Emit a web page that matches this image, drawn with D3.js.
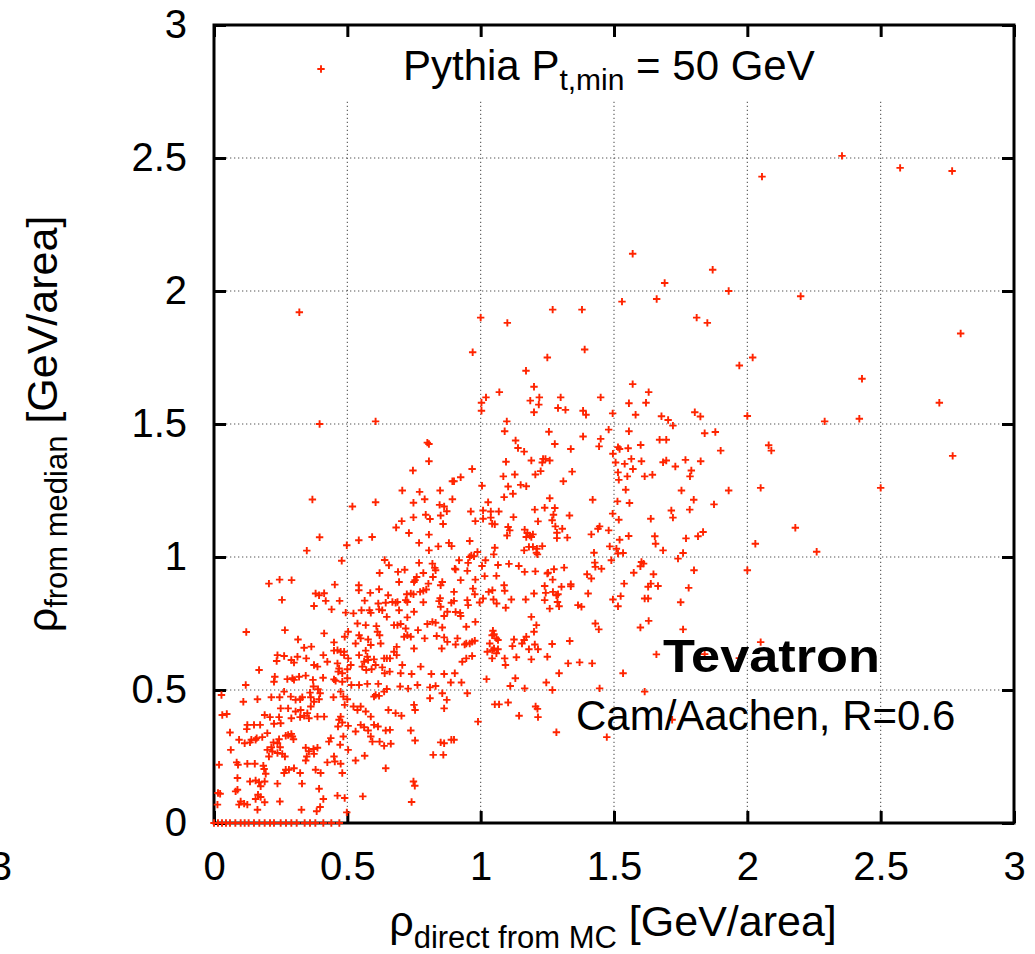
<!DOCTYPE html>
<html><head><meta charset="utf-8">
<script src="https://cdn.jsdelivr.net/npm/d3@7"></script>
<style>
body{margin:0;background:#fff}
svg{display:block}
text{font-family:"Liberation Sans",Arial,Helvetica,sans-serif;fill:#000}
</style>
</head><body>
<svg id="c" width="1035" height="954"></svg>
<script>
// ---------- data ----------
const xTicks = [0, 0.5, 1, 1.5, 2, 2.5, 3];
const yTicks = [0, 0.5, 1, 1.5, 2, 2.5, 3];
const xTickLabels = ["0", "0.5", "1", "1.5", "2", "2.5", "3"];
const yTickLabels = ["0", "0.5", "1", "1.5", "2", "2.5", "3"];
const gridValues = [0.5, 1, 1.5, 2, 2.5];
const seriesName = "Pythia";

// [rho direct from MC, rho from median]
const ptsUpperLeft = [[0.396,1.5],[0.606,1.51],[0.80,1.43],[0.806,1.425],[0.806,1.36],[0.746,1.325],[0.894,1.285],[0.90,1.285],[0.925,1.30],[0.706,1.25],[0.771,1.245],[0.848,1.25],[0.369,1.216],[0.748,1.204],[0.79,1.217],[0.894,1.217],[0.606,1.206],[0.519,1.19],[0.846,1.196],[0.863,1.19],[0.873,1.172],[0.794,1.159],[0.81,1.143],[0.748,1.149],[0.85,1.156],[0.704,1.135],[0.859,1.124],[0.683,1.111],[0.731,1.09],[0.806,1.084],[0.396,1.074],[0.593,1.075],[0.543,1.063],[0.498,1.044],[0.769,1.053],[0.881,1.053],[0.891,1.041],[0.841,1.04],[0.806,1.025],[0.348,1.024],[0.479,0.986],[0.64,0.989],[0.656,0.969],[0.769,0.978],[0.819,0.975],[0.828,0.959],[0.831,0.95],[0.919,0.988],[0.903,0.956],[0.906,0.953],[0.621,0.94],[0.69,0.944],[0.715,0.952],[0.785,0.94],[0.821,0.925],[0.76,0.925],[0.75,0.906],[0.754,0.913],[0.856,0.906],[0.85,0.894],[0.925,0.913],[0.694,0.906],[0.206,0.9],[0.246,0.915],[0.291,0.913],[0.453,0.896],[0.543,0.894],[0.543,0.875],[0.586,0.865],[0.619,0.879],[0.653,0.856],[0.723,0.86],[0.738,0.863],[0.748,0.86],[0.773,0.869],[0.785,0.873],[0.796,0.878],[0.804,0.9],[0.9,0.869],[0.381,0.863],[0.394,0.856],[0.413,0.864],[0.255,0.839],[0.419,0.835],[0.471,0.835],[0.565,0.836],[0.616,0.825],[0.644,0.828],[0.669,0.831],[0.681,0.828],[0.688,0.831],[0.719,0.838],[0.725,0.831],[0.785,0.83],[0.848,0.845],[0.844,0.834],[0.89,0.828],[0.9,0.835],[0.375,0.816],[0.441,0.803],[0.494,0.791],[0.523,0.788],[0.553,0.8],[0.583,0.8],[0.588,0.79],[0.619,0.803],[0.631,0.8],[0.694,0.8],[0.75,0.794],[0.85,0.813],[0.875,0.794],[0.906,0.793],[0.923,0.79]];

const ptsUpperMid = [[1.003,1.58],[1.003,1.55],[1.186,1.588],[1.218,1.573],[1.29,1.56],[1.318,1.553],[1.2,1.544],[1.384,1.55],[1.395,1.535],[1.495,1.54],[1.556,1.578],[1.581,1.535],[1.678,1.529],[1.703,1.515],[1.721,1.494],[1.803,1.544],[1.824,1.528],[1.84,1.465],[1.098,1.51],[1.09,1.473],[1.256,1.471],[1.384,1.453],[1.48,1.479],[1.45,1.444],[1.444,1.416],[1.556,1.473],[1.6,1.421],[1.671,1.441],[1.696,1.441],[1.131,1.438],[1.14,1.41],[1.163,1.396],[1.278,1.425],[1.338,1.406],[1.515,1.413],[1.521,1.406],[1.553,1.409],[1.496,1.388],[1.095,1.358],[1.19,1.363],[1.234,1.369],[1.243,1.369],[1.231,1.355],[1.259,1.363],[1.506,1.355],[1.54,1.35],[1.565,1.369],[1.571,1.331],[1.603,1.36],[1.684,1.356],[1.696,1.363],[1.73,1.34],[1.768,1.365],[1.79,1.325],[1.825,1.36],[0.968,1.331],[1.085,1.303],[1.128,1.31],[1.205,1.31],[1.225,1.323],[1.343,1.321],[1.31,1.285],[1.515,1.318],[1.518,1.29],[1.55,1.303],[1.615,1.303],[1.644,1.309],[1.785,1.303],[1.005,1.268],[1.103,1.265],[1.15,1.271],[1.171,1.266],[1.121,1.238],[1.088,1.225],[1.259,1.221],[1.028,1.206],[1.544,1.253],[1.753,1.25],[1.42,1.215],[1.513,1.209],[1.558,1.203],[1.799,1.215],[1.875,1.198],[0.963,1.171],[1.009,1.175],[1.038,1.171],[1.068,1.171],[1.038,1.148],[1.009,1.144],[0.98,1.135],[1.043,1.125],[1.053,1.123],[1.123,1.15],[1.203,1.178],[1.24,1.185],[1.278,1.184],[1.273,1.159],[1.215,1.134],[1.268,1.138],[1.333,1.156],[1.495,1.163],[1.518,1.14],[1.638,1.144],[1.715,1.175],[1.721,1.148],[1.784,1.178],[1.103,1.113],[1.109,1.1],[1.099,1.081],[1.165,1.103],[1.175,1.09],[1.184,1.081],[1.196,1.085],[1.19,1.075],[1.171,1.075],[1.28,1.115],[1.286,1.091],[1.286,1.071],[1.306,1.106],[1.325,1.073],[1.415,1.085],[1.44,1.106],[1.446,1.115],[1.48,1.1],[1.521,1.065],[1.555,1.079],[1.653,1.078],[1.656,1.05],[1.684,1.025],[1.815,1.078],[1.834,1.094],[0.959,1.06],[1.053,1.035],[1.049,1.01],[1.181,1.038],[1.196,1.038],[1.211,1.031],[1.231,1.041],[1.163,1.025],[1.209,1.016],[1.213,1.01],[1.484,1.04],[1.509,1.031],[1.515,1.013],[1.534,1.015],[1.425,1.016],[1.74,0.994],[1.759,1.015],[0.988,1.019],[0.975,1.003],[0.959,1.0],[0.953,0.978],[0.965,1.006],[1.005,0.966],[1.018,0.988],[1.065,0.97],[1.106,0.974],[1.143,0.966],[1.165,0.944],[1.205,0.946],[1.25,0.938],[1.275,0.954],[1.313,0.96],[0.95,0.948],[1.015,0.928],[1.059,0.929],[0.98,0.915],[1.27,0.915],[1.253,0.941],[1.428,0.979],[1.43,0.963],[1.453,0.956],[1.49,0.988],[1.399,0.935],[1.415,0.919],[1.603,0.981],[1.611,0.975],[1.599,0.965],[1.574,0.941],[1.648,0.935],[1.638,0.9],[1.628,0.888],[1.665,0.891],[1.78,0.884],[1.538,0.9],[0.971,0.881],[0.978,0.86],[1.03,0.869],[1.044,0.875],[1.088,0.894],[1.09,0.873],[1.115,0.84],[1.2,0.863],[1.24,0.891],[1.244,0.865],[1.24,0.838],[1.284,0.856],[1.29,0.86],[1.338,0.898],[1.338,0.89],[1.303,0.888],[1.271,0.869],[1.403,0.863],[1.525,0.853],[1.496,0.84],[1.515,0.815],[1.615,0.844],[1.628,0.844],[1.009,0.844],[0.996,0.829],[0.95,0.838],[0.953,0.819],[1.048,0.84],[1.06,0.825],[1.094,0.809],[1.169,0.84],[1.288,0.831],[1.294,0.815],[1.259,0.806],[1.365,0.819],[1.378,0.813]];

const ptsLowerLeft = [[0.648,0.775],[0.725,0.773],[0.863,0.778],[0.925,0.778],[0.675,0.744],[0.688,0.744],[0.7,0.748],[0.8,0.748],[0.819,0.756],[0.831,0.753],[0.856,0.735],[0.719,0.731],[0.725,0.706],[0.713,0.7],[0.738,0.7],[0.765,0.725],[0.538,0.75],[0.569,0.744],[0.609,0.74],[0.613,0.719],[0.503,0.719],[0.49,0.7],[0.413,0.713],[0.266,0.725],[0.121,0.718],[0.544,0.706],[0.55,0.694],[0.531,0.675],[0.578,0.69],[0.588,0.669],[0.621,0.706],[0.625,0.675],[0.79,0.694],[0.835,0.703],[0.863,0.698],[0.875,0.681],[0.854,0.656],[0.913,0.694],[0.906,0.671],[0.94,0.671],[0.315,0.69],[0.45,0.679],[0.685,0.662],[0.675,0.644],[0.685,0.631],[0.66,0.619],[0.75,0.656],[0.338,0.659],[0.365,0.663],[0.45,0.648],[0.463,0.65],[0.475,0.644],[0.488,0.644],[0.488,0.631],[0.503,0.619],[0.238,0.631],[0.263,0.628],[0.235,0.609],[0.313,0.625],[0.346,0.619],[0.29,0.613],[0.3,0.603],[0.41,0.631],[0.425,0.606],[0.375,0.594],[0.388,0.588],[0.463,0.6],[0.469,0.581],[0.466,0.569],[0.481,0.563],[0.5,0.578],[0.513,0.594],[0.544,0.631],[0.569,0.648],[0.575,0.625],[0.563,0.606],[0.578,0.613],[0.556,0.588],[0.6,0.615],[0.606,0.594],[0.571,0.575],[0.591,0.578],[0.631,0.585],[0.64,0.563],[0.659,0.569],[0.638,0.619],[0.648,0.619],[0.706,0.594],[0.7,0.563],[0.741,0.56],[0.775,0.588],[0.815,0.56],[0.863,0.56],[0.903,0.563],[0.931,0.606],[0.169,0.575],[0.228,0.55],[0.225,0.531],[0.275,0.541],[0.294,0.544],[0.3,0.538],[0.319,0.55],[0.344,0.554],[0.371,0.538],[0.409,0.546],[0.45,0.54],[0.456,0.535],[0.481,0.531],[0.5,0.544],[0.515,0.519],[0.544,0.519],[0.575,0.523],[0.616,0.523],[0.698,0.513],[0.728,0.505],[0.763,0.519],[0.81,0.51],[0.831,0.515],[0.888,0.528],[0.928,0.528],[0.119,0.519],[0.373,0.513],[0.39,0.503],[0.648,0.504],[0.638,0.494],[0.606,0.481],[0.6,0.475],[0.619,0.478],[0.028,0.481],[0.11,0.456],[0.163,0.465],[0.215,0.473],[0.246,0.473],[0.263,0.494],[0.288,0.475],[0.306,0.463],[0.323,0.465],[0.331,0.473],[0.36,0.49],[0.363,0.473],[0.375,0.456],[0.394,0.465],[0.398,0.488],[0.448,0.473],[0.475,0.494],[0.485,0.475],[0.5,0.465],[0.49,0.444],[0.81,0.469],[0.856,0.488],[0.873,0.463],[0.863,0.431],[0.523,0.438],[0.538,0.425],[0.55,0.438],[0.569,0.419],[0.588,0.4],[0.654,0.425],[0.681,0.413],[0.703,0.403],[0.75,0.444],[0.754,0.425],[0.25,0.431],[0.278,0.431],[0.306,0.419],[0.325,0.425],[0.35,0.413],[0.363,0.438],[0.388,0.4],[0.413,0.4],[0.031,0.406],[0.048,0.41],[0.19,0.406],[0.21,0.398],[0.244,0.398],[0.225,0.373],[0.25,0.375],[0.29,0.394],[0.323,0.398],[0.338,0.403],[0.356,0.394],[0.469,0.388],[0.475,0.4],[0.481,0.378],[0.465,0.363],[0.503,0.365],[0.531,0.344],[0.55,0.369],[0.563,0.36],[0.578,0.348],[0.6,0.369],[0.615,0.363],[0.588,0.325],[0.594,0.306],[0.621,0.306],[0.638,0.29],[0.663,0.298],[0.644,0.348],[0.66,0.35],[0.738,0.348],[0.754,0.31],[0.85,0.303],[0.863,0.3],[0.89,0.313],[0.9,0.313],[0.822,0.256],[0.86,0.256],[0.125,0.369],[0.15,0.369],[0.123,0.353],[0.173,0.369],[0.094,0.313],[0.06,0.34],[0.14,0.313],[0.16,0.319],[0.181,0.323],[0.2,0.338],[0.244,0.315],[0.269,0.328],[0.278,0.331],[0.29,0.335],[0.298,0.315],[0.294,0.325],[0.223,0.303],[0.238,0.3],[0.215,0.285],[0.2,0.275],[0.219,0.269],[0.238,0.263],[0.248,0.285],[0.256,0.26],[0.266,0.25],[0.206,0.25],[0.115,0.3],[0.135,0.303],[0.156,0.313],[0.063,0.275],[0.344,0.283],[0.356,0.27],[0.348,0.25],[0.373,0.278],[0.375,0.26],[0.388,0.283],[0.431,0.306],[0.438,0.319],[0.473,0.294],[0.485,0.325],[0.503,0.275],[0.45,0.25],[0.453,0.231],[0.475,0.223],[0.425,0.228],[0.344,0.235],[0.565,0.253],[0.531,0.235],[0.644,0.206],[0.019,0.219],[0.085,0.228],[0.09,0.219],[0.125,0.223],[0.153,0.223],[0.185,0.215],[0.188,0.203],[0.194,0.185],[0.269,0.2],[0.281,0.2],[0.3,0.206],[0.263,0.188],[0.323,0.188],[0.381,0.2],[0.4,0.188],[0.481,0.188],[0.088,0.169],[0.135,0.156],[0.156,0.16],[0.169,0.153],[0.19,0.156],[0.175,0.138],[0.238,0.148],[0.33,0.148],[0.394,0.129],[0.088,0.125],[0.081,0.119],[0.023,0.11],[0.165,0.106],[0.156,0.09],[0.175,0.098],[0.19,0.078],[0.1,0.081],[0.113,0.073],[0.125,0.069],[0.094,0.069],[0.247,0.081],[0.328,0.05],[0.385,0.044],[0.398,0.06],[0.41,0.09],[0.463,0.103],[0.49,0.094],[0.163,0.05],[0.013,0.069],[0.015,0.113],[0.558,0.1],[0.748,0.156],[0.753,0.14],[0.741,0.079],[0.498,0.04]];

const ptsLowerMid = [[0.98,0.756],[0.946,0.738],[1.19,0.775],[1.209,0.744],[1.2,0.719],[1.43,0.75],[1.443,0.728],[1.046,0.723],[1.05,0.71],[1.043,0.706],[1.059,0.694],[1.065,0.688],[1.034,0.675],[1.025,0.644],[1.043,0.65],[1.05,0.656],[1.065,0.653],[1.059,0.638],[1.043,0.619],[0.968,0.681],[0.959,0.675],[0.978,0.685],[0.946,0.675],[0.968,0.628],[0.946,0.619],[1.125,0.69],[1.119,0.665],[1.134,0.623],[1.155,0.675],[1.163,0.688],[1.171,0.7],[1.181,0.653],[1.203,0.671],[1.215,0.653],[1.19,0.615],[1.09,0.619],[1.093,0.594],[1.268,0.673],[1.25,0.625],[1.334,0.684],[1.328,0.6],[1.371,0.604],[1.418,0.6],[1.294,0.563],[1.022,0.541],[1.13,0.544],[1.111,0.515],[1.165,0.506],[1.246,0.528],[1.269,0.5],[1.446,0.506],[0.95,0.488],[1.053,0.446],[1.069,0.446],[1.103,0.453],[1.206,0.438],[1.213,0.429],[1.215,0.398],[1.144,0.403],[0.99,0.381],[1.284,0.341],[1.473,0.323],[1.534,0.563],[1.599,0.735],[1.63,0.76],[1.759,0.728],[1.659,0.634],[1.615,0.494],[1.718,0.388],[1.84,0.635]];

const ptsOnAxis = [[0.0,0],[0.015,0],[0.03,0],[0.045,0],[0.06,0],[0.08,0],[0.1,0],[0.115,0],[0.13,0],[0.15,0],[0.17,0],[0.19,0],[0.21,0],[0.225,0],[0.25,0],[0.27,0],[0.29,0],[0.31,0],[0.34,0],[0.36,0],[0.38,0],[0.41,0],[0.44,0],[0.47,0]];

const ptsSparse = [[0.32,1.92],[1.0,1.9],[0.97,1.77],[1.1,1.88],[1.25,1.75],[1.27,1.93],[1.39,1.78],[1.38,1.93],[1.57,2.14],[1.53,1.96],[1.69,2.03],[1.66,1.97],[1.81,1.9],[1.85,1.88],[1.87,2.08],[1.93,2.0],[2.2,1.98],[2.8,1.84],[2.43,1.67],[2.42,1.52],[2.29,1.51],[2.72,1.58],[2.77,1.38],[2.5,1.26],[2.26,1.02],[2.18,1.11],[2.08,1.42],[2.05,1.26],[2.0,1.53],[2.02,1.75],[1.97,1.72],[1.88,1.47],[1.9,1.4],[1.93,1.25],[2.09,1.4],[2.03,1.05],[2.0,0.95],[2.05,0.68],[1.97,0.62],[1.77,1.07],[1.8,0.95],[1.75,0.83],[1.63,1.62],[1.62,1.58],[1.45,1.6],[1.57,1.65],[1.2,1.64],[1.22,1.6],[1.17,1.7],[1.3,1.6],[1.07,1.62],[1.02,1.6],[2.355,2.508],[2.055,2.43],[2.573,2.463],[2.768,2.451]];

// ---------- drawing ----------
const svg = d3.select("#c");
const x = d3.scaleLinear().domain([0, 3]).range([214, 1014]);
const y = d3.scaleLinear().domain([0, 3]).range([823, 25]);
const keyBottom = 100;
const red = "#ff2400";

// grid
const grid = svg.append("g").attr("stroke", "#555").attr("stroke-width", 1.1).attr("stroke-dasharray", "1.3,2.7");
grid.selectAll(".gv").data(gridValues).join("line")
  .attr("x1", d => x(d)).attr("x2", d => x(d))
  .attr("y1", y(0)).attr("y2", y(3));
grid.selectAll(".gh").data(gridValues).join("line")
  .attr("x1", x(0)).attr("x2", x(3))
  .attr("y1", d => y(d)).attr("y2", d => y(d));

// opaque key box (covers grid)
svg.append("rect").attr("x", x(0)).attr("y", y(3)).attr("width", x(3) - x(0)).attr("height", keyBottom - y(3)).attr("fill", "#fff");

// frame + ticks via axes (inward ticks)
const tickLen = 12;
const axB = d3.axisBottom(x).tickValues(xTicks).tickFormat((d, i) => xTickLabels[i]).tickSizeInner(-tickLen).tickSizeOuter(0).tickPadding(29);
const axT = d3.axisTop(x).tickValues(xTicks).tickFormat("").tickSizeInner(-tickLen).tickSizeOuter(0);
const axL = d3.axisLeft(y).tickValues(yTicks).tickFormat((d, i) => yTickLabels[i]).tickSizeInner(-tickLen).tickSizeOuter(0).tickPadding(27);
const axR = d3.axisRight(y).tickValues(yTicks).tickFormat("").tickSizeInner(-tickLen).tickSizeOuter(0);

function styleAxis(g) {
  g.selectAll(".domain").remove();
  g.selectAll(".tick line").attr("stroke", "#000").attr("stroke-width", 3);
  g.selectAll(".tick text").attr("font-size", 40).attr("font-family", "Liberation Sans, Arial, sans-serif").attr("fill", "#000");
}
svg.append("g").attr("transform", `translate(0,${y(0)})`).call(axB).call(styleAxis);
svg.append("g").attr("transform", `translate(0,${y(3)})`).call(axT).call(styleAxis);
svg.append("g").attr("transform", `translate(${x(0)},0)`).call(axL).call(styleAxis);
svg.append("g").attr("transform", `translate(${x(3)},0)`).call(axR).call(styleAxis);

svg.append("rect").attr("x", x(0)).attr("y", y(3)).attr("width", x(3) - x(0)).attr("height", y(0) - y(3))
  .attr("fill", "none").attr("stroke", "#000").attr("stroke-width", 3);

// points
const allPts = [].concat(ptsUpperLeft, ptsUpperMid, ptsLowerLeft, ptsLowerMid, ptsOnAxis, ptsSparse);
const plus = "M-3.7,0H3.7M0,-3.7V3.7";
svg.append("g").selectAll("path").data(allPts).join("path")
  .attr("transform", d => `translate(${x(d[0])},${y(d[1])})`)
  .attr("d", plus).attr("stroke", red).attr("stroke-width", 1.9).attr("fill", "none");

// key
svg.append("path").attr("transform", `translate(321,69)`).attr("d", plus).attr("stroke", red).attr("stroke-width", 1.9);
const key = svg.append("text").attr("x", 403).attr("y", 80).attr("font-size", 42);
key.append("tspan").text(seriesName + " P");
key.append("tspan").attr("font-size", 30).attr("dy", 10).text("t,min");
key.append("tspan").attr("dy", -10).text(" = 50 GeV");

// annotations
svg.append("text").attr("x", 880).attr("y", 672).attr("text-anchor", "end")
  .attr("font-family", "Lato, 'Open Sans', sans-serif").attr("font-weight", 900).attr("font-size", 46)
  .attr("textLength", 217).attr("lengthAdjust", "spacingAndGlyphs").text("Tevatron");
svg.append("text").attr("x", 576).attr("y", 730).attr("font-size", 42).text("Cam/Aachen, R=0.6");

// axis titles
const xl = svg.append("text").attr("x", 613).attr("y", 936).attr("text-anchor", "middle").attr("font-size", 43);
xl.append("tspan").text("ρ");
xl.append("tspan").attr("font-size", 31).attr("dy", 12).text("direct from MC");
xl.append("tspan").attr("dy", -12).text(" [GeV/area]");

const yl = svg.append("text").attr("transform", "translate(57,424) rotate(-90)").attr("text-anchor", "middle").attr("font-size", 43);
yl.append("tspan").text("ρ");
yl.append("tspan").attr("font-size", 31).attr("dy", 10).text("from median");
yl.append("tspan").attr("dy", -10).text(" [GeV/area]");

// partial tick label of a neighbouring panel at the left edge
svg.append("text").attr("x", 12).attr("y", 880).attr("text-anchor", "end").attr("font-size", 40).text("3");
</script>
</body></html>
